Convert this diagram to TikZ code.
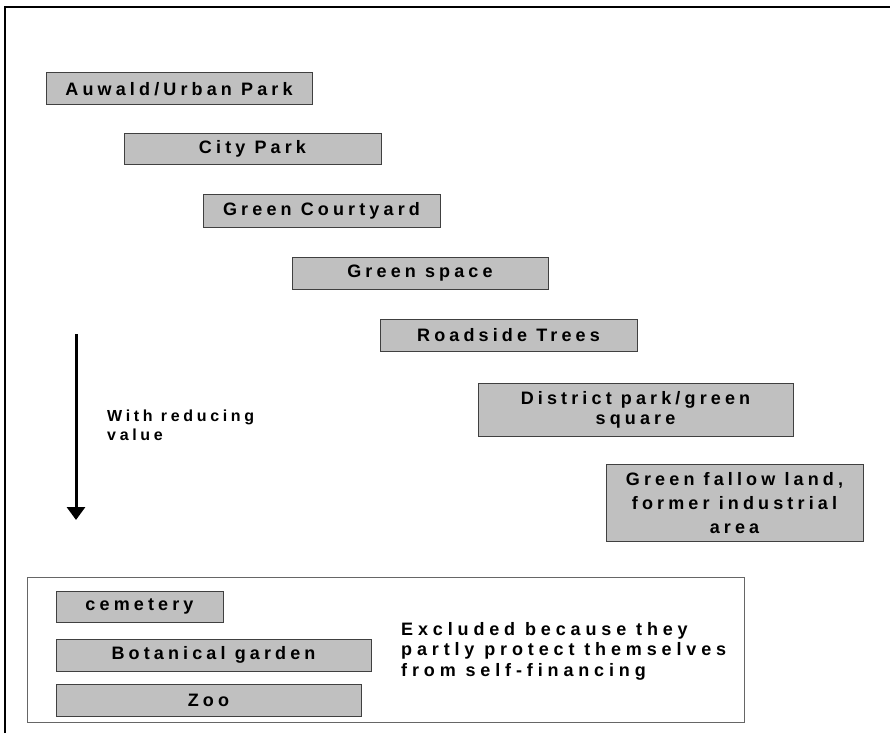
\documentclass[tikz,border=0pt]{standalone}
\usepackage{fontspec}
\setmainfont{Liberation Sans}[LetterSpace=23]
\usetikzlibrary{arrows.meta}
\definecolor{grisbox}{RGB}{192,192,192}
\tikzset{
	x=1pt, y=-1pt, % Un pixel por punto, y hacia abajo
	parkbox/.style={draw=black!75, fill=grisbox, line width=1pt, inner sep=0pt, align=center,
		font=\bfseries\fontsize{18}{20}\selectfont}, % Cajas grises de los espacios verdes
	notetext/.style={inner sep=0pt, align=left, anchor=north west}, % Textos sueltos
	valuearrow/.style={line width=3pt, -{Triangle[width=18pt,length=13pt]}} % Flecha del valor
}

\begin{document}
\begin{tikzpicture}
	\useasboundingbox (0,0) rectangle (890,733);
	\draw[line width=2pt] (5,733) -- (5,7) -- (890,7);
	% espacios ordenados por valor
	\node[parkbox, minimum width=266, minimum height=32] (auwald) at (179,89) {Auwald/Urban Park};
	\node[parkbox, minimum width=257, minimum height=31] (citypark) at (252.5,148.5) {City Park};
	\node[parkbox, minimum width=237, minimum height=33] (courtyard) at (321.5,210.5) {Green Courtyard};
	\node[parkbox, minimum width=256, minimum height=32] (greenspace) at (420,273) {Green space};
	\node[parkbox, minimum width=257, minimum height=32] (roadside) at (508.5,335) {Roadside Trees};
	\node[parkbox, minimum width=315, minimum height=53, font=\bfseries\fontsize{18}{20}\selectfont] (district) at (635.5,409.5) {District park/green\\square};
	\node[parkbox, minimum width=257, minimum height=77, font=\bfseries\fontsize{18}{24}\selectfont] (fallow) at (734.5,503) {Green fallow land,\\former industrial\\area};
	% flecha
	\coordinate (arrowtop) at (76,334);
	\coordinate (arrowtip) at (76,520);
	\draw[valuearrow] (arrowtop) -- (arrowtip);
	\node[notetext, font=\bfseries\fontsize{16}{19}\selectfont] (reducing) at (107,410) {With reducing\\value};
	% excluidos
	\node[draw=black!60, line width=1pt, minimum width=717, minimum height=145, inner sep=0pt] (excluded) at (386,649.5) {};
	\node[parkbox, minimum width=167, minimum height=31] (cemetery) at (139.5,606.5) {cemetery};
	\node[parkbox, minimum width=315, minimum height=32] (botanical) at (213.5,655) {Botanical garden};
	\node[parkbox, minimum width=305, minimum height=32] (zoo) at (208.5,700) {Zoo};
	\node[notetext, font=\bfseries\fontsize{18}{20.5}\selectfont\addfontfeature{LetterSpace=27}] (reason) at (401,622) {Excluded because they\\partly protect themselves\\from self-financing};
\end{tikzpicture}
\end{document}
